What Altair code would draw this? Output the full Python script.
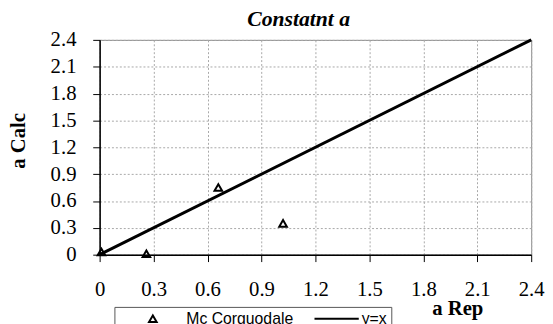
import altair as alt
import pandas as pd

# data
rep = [0.01, 0.26, 0.66, 1.02]
calc = [0.03, 0.01, 0.75, 0.35]
line_x = [0.0, 2.4]
line_y = [0.0, 2.4]
series = ["Mc Corguodale", "y=x"]
ticks = [0, 0.3, 0.6, 0.9, 1.2, 1.5, 1.8, 2.1, 2.4]

pts = pd.DataFrame({"rep": rep, "calc": calc, "series": series[0]})
ln = pd.DataFrame({"rep": line_x, "calc": line_y, "series": series[1]})

SERIF = "Liberation Serif"
SANS = "Liberation Sans"

xs = alt.Scale(domain=[0, 2.4], nice=False, zero=False)
ys = alt.Scale(domain=[0, 2.4], nice=False, zero=False)

common_axis = dict(
    values=ticks, format=".1~f", grid=True, gridDash=[2, 2], gridColor="#a8a8a8",
    gridWidth=1, domainColor="black", domainWidth=1.5, tickColor="black",
    tickWidth=1, tickSize=7, labelFont=SERIF, labelFontSize=21, labelColor="black",
    labelFlush=False, labelOverlap=False, titleFont=SERIF, titleFontSize=21,
    titleFontWeight="bold", titleColor="black",
)

x_axis = alt.Axis(title="a Rep", labelPadding=17, titleX=363, titleY=61,
                  titleBaseline="alphabetic", titleAlign="center", **common_axis)
y_axis = alt.Axis(title="a Calc", labelPadding=17, titleX=-82, titleY=102,
                  titleAngle=270, titleBaseline="middle", titleAlign="center",
                  **common_axis)

X = alt.X("rep:Q", scale=xs, axis=x_axis)
Y = alt.Y("calc:Q", scale=ys, axis=y_axis)

line = alt.Chart(ln).mark_line(color="black", strokeWidth=3).encode(x=X, y=Y)

points = alt.Chart(pts).mark_point(
    filled=False, color="black", size=60, strokeWidth=2, opacity=1
).encode(
    x=X,
    y=Y,
    shape=alt.Shape(
        "series:N",
        scale=alt.Scale(domain=series, range=["triangle-up", "M-3.6,0L8,0"]),
        legend=alt.Legend(
            title=None, orient="none", legendX=15, legendY=271, direction="horizontal",
            strokeColor="#555555", fillColor="white", padding=4,
            labelFont=SANS, labelFontSize=16, labelColor="black", labelOffset=26,
            columnPadding=-40, symbolSize=60, symbolOffset=27, symbolStrokeWidth=2,
            symbolStrokeColor="black", symbolFillColor="transparent",
        ),
    ),
)

chart = alt.layer(line, points).properties(
    width=438, height=218,
    padding={"left": 93, "top": 30, "right": 14, "bottom": 68},
    autosize=alt.AutoSizeParams(type="none"),
    background="white",
    title=alt.TitleParams(
        "Constatnt a", font=SERIF, fontSize=22, fontWeight="bold", fontStyle="italic",
        color="black", anchor="middle", dx=-17, offset=-2,
    ),
).configure_view(stroke="#888888", strokeWidth=1)

chart.save("out.html", embed_options={"renderer": "svg", "actions": False})
